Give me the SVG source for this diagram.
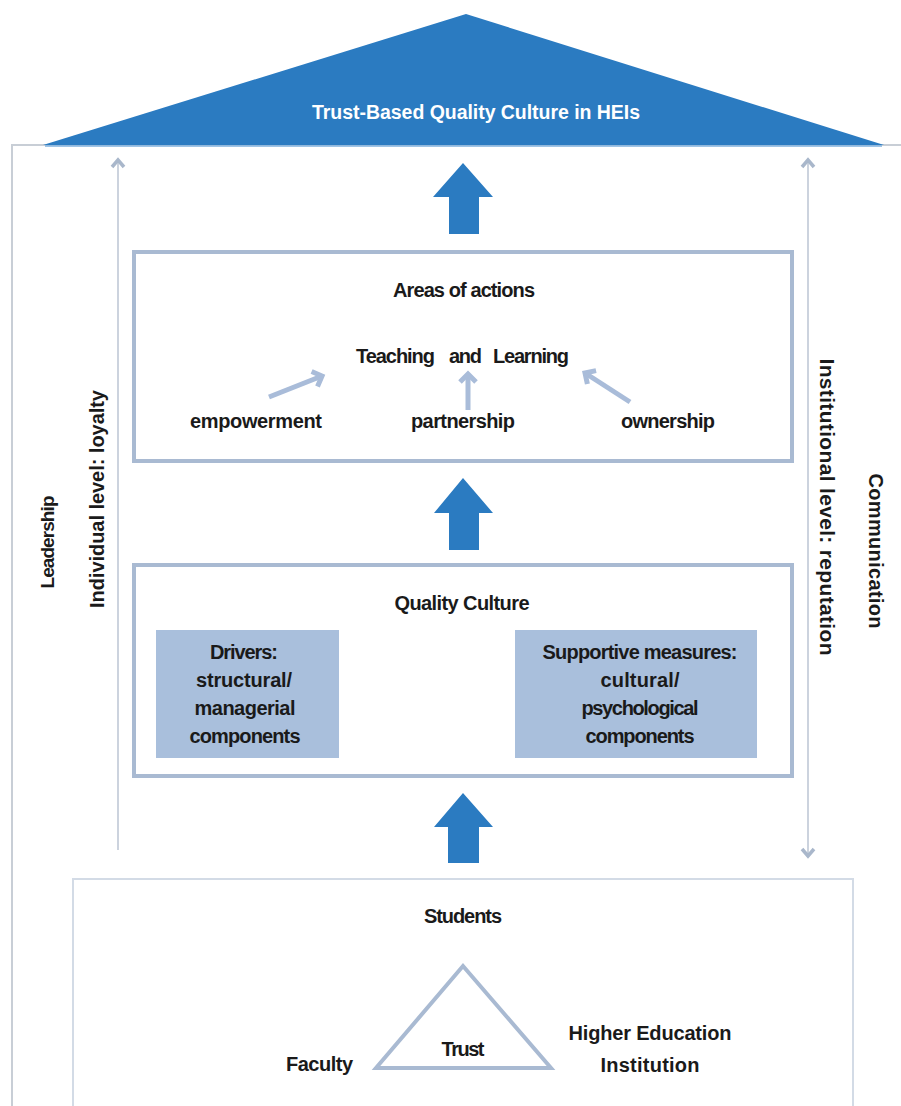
<svg xmlns="http://www.w3.org/2000/svg" width="901" height="1106" viewBox="0 0 901 1106">
<style>
  text { font-family: "Liberation Sans", Arial, sans-serif; font-weight: bold; font-size: 20px; fill: #1a1a1a; }
  .mid { text-anchor: middle; }
  .title { fill: #ffffff; font-size: 19.5px; }
  .box { fill: #ffffff; stroke: #a9bad2; stroke-width: 4; }
  .fillbox { fill: #a9bfdc; stroke: none; }
  .big { fill: #2b7bc1; }
  .small { stroke: #a9bcd9; stroke-width: 5; fill: none; }
  .thin { stroke: #ccd3de; stroke-width: 2; fill: none; }
</style>
<defs>
  <marker id="chev" viewBox="-12 -12 24 24" markerWidth="24" markerHeight="24" refX="0" refY="0" orient="auto" markerUnits="userSpaceOnUse" overflow="visible">
    <path d="M-8,-8 L0,0 L-8,8" fill="none" stroke="#a9bcd9" stroke-width="5" stroke-linejoin="miter"/>
  </marker>
  <marker id="thinhead" viewBox="-10 -10 20 20" markerWidth="20" markerHeight="20" refX="0" refY="0" orient="auto-start-reverse" markerUnits="userSpaceOnUse" overflow="visible">
    <path d="M-7,-6 L0,0 L-7,6" fill="none" stroke="#a9b7cb" stroke-width="3.5"/>
  </marker>
</defs>
<rect width="901" height="1106" fill="#ffffff"/>

<g id="frame">
  <polyline points="12,1106 12,145 901,145" fill="none" stroke="#c8ced6" stroke-width="2"/>
</g>

<g id="roof">
  <polygon points="43,145 466,14 884,145" fill="#2b7bc1"/>
  <line x1="45" y1="146" x2="882" y2="146" stroke="#7fb0de" stroke-width="1.5"/>
  <text class="title mid" x="476" y="119" textLength="328">Trust-Based Quality Culture in HEIs</text>
</g>

<g id="areas">
  <rect class="box" x="134" y="252" width="658" height="209"/>
  <text class="mid" x="464" y="297" textLength="142">Areas of actions</text>
  <text x="356" y="363" textLength="79">Teaching</text>
  <text x="449" y="363" textLength="33">and</text>
  <text x="493" y="363" textLength="76">Learning</text>
  <text x="190" y="428" textLength="132">empowerment</text>
  <text x="411" y="428" textLength="104">partnership</text>
  <text x="621" y="428" textLength="94">ownership</text>
</g>

<g id="quality">
  <rect class="box" x="134" y="565" width="658" height="211"/>
  <text class="mid" x="462" y="610" textLength="135">Quality Culture</text>
  <rect class="fillbox" x="156" y="630" width="183" height="128"/>
  <text class="mid" x="244" y="659" textLength="68">Drivers:</text>
  <text class="mid" x="244" y="687" textLength="96">structural/</text>
  <text class="mid" x="245" y="715" textLength="101">managerial</text>
  <text class="mid" x="245" y="743" textLength="111">components</text>
  <rect class="fillbox" x="515" y="630" width="242" height="128"/>
  <text class="mid" x="640" y="659" textLength="195">Supportive measures:</text>
  <text class="mid" x="640" y="687" textLength="79">cultural/</text>
  <text class="mid" x="640" y="715" textLength="117">psychological</text>
  <text class="mid" x="640" y="743" textLength="109">components</text>
</g>

<g id="base">
  <rect x="73" y="879" width="780" height="240" fill="#ffffff" stroke="#d3dbe6" stroke-width="2"/>
  <text class="mid" x="463" y="923" textLength="78">Students</text>
  <polygon points="463,966 376,1068 551,1068" fill="none" stroke="#a9bad2" stroke-width="4"/>
  <text class="mid" x="463" y="1056" textLength="43">Trust</text>
  <text x="286" y="1071" textLength="67">Faculty</text>
  <text class="mid" x="650" y="1040" textLength="163">Higher Education</text>
  <text class="mid" x="650" y="1072" textLength="99">Institution</text>
</g>

<g id="side-labels">
  <text class="mid" transform="translate(54,542) rotate(-90)" style="font-size:19px" textLength="93">Leadership</text>
  <text class="mid" transform="translate(104,499) rotate(-90)" textLength="218">Individual level: loyalty</text>
  <text class="mid" transform="translate(820,507) rotate(90)" style="font-size:21px" textLength="297">Institutional level: reputation</text>
  <text class="mid" transform="translate(869,551) rotate(90)" textLength="155">Communication</text>
</g>

<g id="connectors">
  <polygon class="big" points="449,234 449,197 433,197 463,163 493,197 479,197 479,234"/>
  <polygon class="big" points="449,550 449,513 434,513 463,478 493,513 479,513 479,550"/>
  <polygon class="big" points="448,863 448,827 434,827 463,793 493,827 479,827 479,863"/>
  <line class="small" x1="269" y1="397" x2="322" y2="376" marker-end="url(#chev)"/>
  <line class="small" x1="468" y1="410" x2="468" y2="374" marker-end="url(#chev)"/>
  <line class="small" x1="630" y1="402" x2="585" y2="373" marker-end="url(#chev)"/>
  <line class="thin" x1="118" y1="850" x2="118" y2="160" marker-end="url(#thinhead)"/>
  <line class="thin" x1="808" y1="856" x2="808" y2="160" marker-start="url(#thinhead)" marker-end="url(#thinhead)"/>
</g>
</svg>
